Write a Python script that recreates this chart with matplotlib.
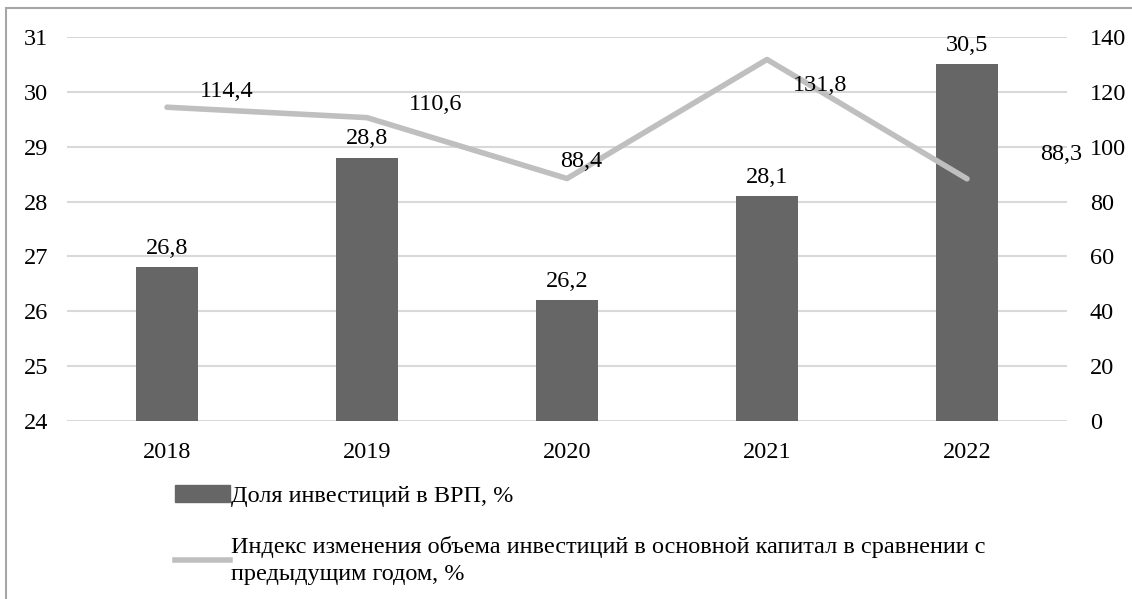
import matplotlib.pyplot as plt
from matplotlib.patches import Rectangle
from matplotlib.lines import Line2D
import numpy as np

plt.rcParams['font.family'] = ['Liberation Serif', 'DejaVu Serif']

years = ['2018', '2019', '2020', '2021', '2022']
share = [26.8, 28.8, 26.2, 28.1, 30.5]
index = [114.4, 110.6, 88.4, 131.8, 88.3]
share_labels = ['26,8', '28,8', '26,2', '28,1', '30,5']
index_labels = ['114,4', '110,6', '88,4', '131,8', '88,3']

bar_name = 'Доля инвестиций в ВРП, %'
line_name = ('Индекс изменения объема инвестиций в основной капитал в сравнении с\n'
             'предыдущим годом, %')

W, H = 1132, 599
fig = plt.figure(figsize=(W / 100, H / 100), dpi=100)

# axes box in pixels: left 67, right 1067, top 37, bottom 421
ax = fig.add_axes([67 / W, 1 - 421 / H, 1000 / W, 384 / H])
ax2 = ax.twinx()

x = np.arange(len(years))
bar_color = '#666666'
line_color = '#bfbfbf'
fs = 17.5

ax.bar(x, share, width=0.31, bottom=0, color=bar_color, zorder=3)
ax.set_ylim(24, 31)
ax.set_xlim(-0.5, len(years) - 0.5)
ax.set_yticks(range(24, 32))
ax.grid(axis='y', color='#d9d9d9', linewidth=1.5, zorder=0)
ax.set_axisbelow(True)

ax2.plot(x, index, color=line_color, linewidth=4, solid_capstyle='round', zorder=4)
ax2.set_ylim(0, 140)
ax2.set_yticks(range(0, 141, 20))

for a in (ax, ax2):
    for s in a.spines.values():
        s.set_visible(False)
    a.tick_params(length=0, labelsize=fs)
ax.tick_params(axis='y', pad=13.7)
ax2.tick_params(axis='y', pad=16.5)
ax.tick_params(axis='x', pad=15)
ax.set_xticks(x)
ax.set_xticklabels(years)

for xi, v, t in zip(x, share, share_labels):
    ax.annotate(t, (xi, v), xytext=(0, 6), textcoords='offset points',
                ha='center', va='bottom', fontsize=fs, zorder=5)

# label offsets (points) for the line values
offs = [(43, 3.4), (49.5, 1.7), (10, 4.4), (38, -26.5), (68, 10)]
for xi, v, t, o in zip(x, index, index_labels, offs):
    ax2.annotate(t, (xi, v), xytext=o, textcoords='offset points',
                 ha='center', va='bottom', fontsize=fs, zorder=5)

# legend below the plot
handles = [Rectangle((0, 0), 1, 1, color=bar_color),
           Line2D([0], [0], color=line_color, linewidth=4)]
leg = fig.legend(handles, [bar_name, line_name], loc='upper left',
                 bbox_to_anchor=(153 / W, 1 - 463 / H), frameon=False,
                 fontsize=fs, handlelength=2.25, handletextpad=0.05,
                 labelspacing=1.2, alignment='left')
for t in leg.get_texts():
    t.set_linespacing(1.35)

fig.patches.append(Rectangle((6 / W, -0.05), 1.2, 1 - 8 / H + 0.05,
                             transform=fig.transFigure, fill=False,
                             edgecolor='#a6a6a6', linewidth=1.5))

fig.savefig('out.png', dpi=100)
